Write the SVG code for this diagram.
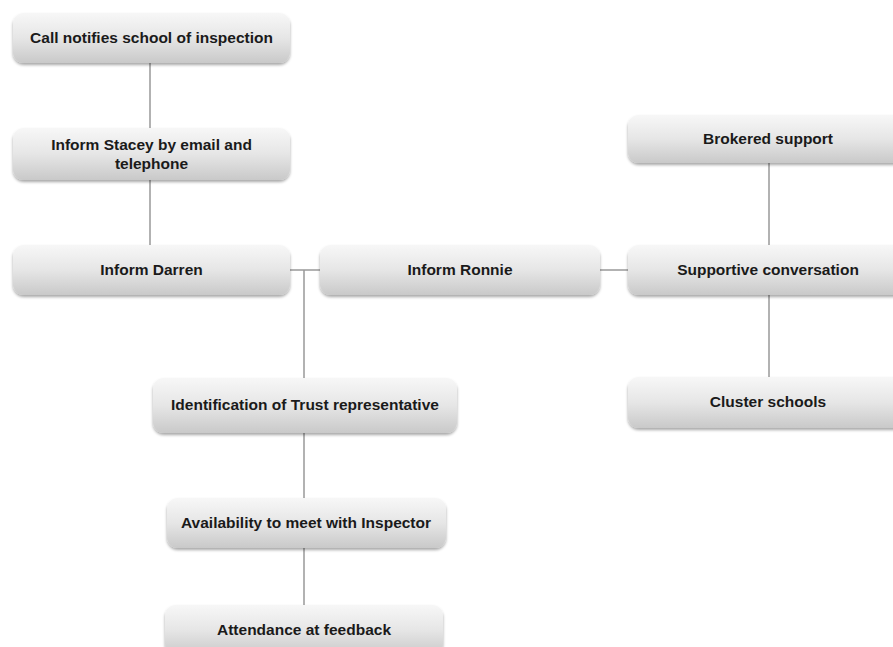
<svg xmlns="http://www.w3.org/2000/svg" width="893" height="647" viewBox="0 0 893 647">
<defs>
<linearGradient id="g" x1="0" y1="0" x2="0" y2="1">
<stop offset="0" stop-color="#f7f7f7"/>
<stop offset="0.5" stop-color="#e6e6e6"/>
<stop offset="1" stop-color="#c9c9c9"/>
</linearGradient>
<filter id="sh" x="-10%" y="-20%" width="120%" height="150%">
<feGaussianBlur in="SourceAlpha" stdDeviation="1.5"/>
<feOffset dx="0" dy="2" result="b"/>
<feComponentTransfer><feFuncA type="linear" slope="0.35"/></feComponentTransfer>
<feMerge><feMergeNode/><feMergeNode in="SourceGraphic"/></feMerge>
</filter>
</defs>
<style>
.box{fill:url(#g);filter:url(#sh);}
.t{font-family:"Liberation Sans",Arial,sans-serif;font-weight:bold;font-size:15.5px;fill:#1a1a1a;text-anchor:middle;}
.c{stroke:#999;stroke-width:1.5;fill:none;}
</style>
<rect width="893" height="647" fill="#fff"/>
<g id="connectors">
<line class="c" x1="150" y1="63" x2="150" y2="128"/>
<line class="c" x1="150" y1="180" x2="150" y2="245"/>
<line class="c" x1="290" y1="270" x2="320" y2="270"/>
<line class="c" x1="304" y1="270" x2="304" y2="378"/>
<line class="c" x1="600" y1="270" x2="628" y2="270"/>
<line class="c" x1="769" y1="163" x2="769" y2="245"/>
<line class="c" x1="769" y1="295" x2="769" y2="377"/>
<line class="c" x1="304" y1="433" x2="304" y2="498"/>
<line class="c" x1="304" y1="548" x2="304" y2="605"/>
</g>
<g id="n1"><rect class="box" x="13" y="13" width="277" height="50" rx="11"/><text class="t" x="151.5" y="43">Call notifies school of inspection</text></g>
<g id="n2"><rect class="box" x="13" y="128" width="277" height="52" rx="11"/><text class="t" x="151.5" y="150">Inform Stacey by email and</text><text class="t" x="151.5" y="169">telephone</text></g>
<g id="n3"><rect class="box" x="13" y="245" width="277" height="50" rx="11"/><text class="t" x="151.5" y="275">Inform Darren</text></g>
<g id="n4"><rect class="box" x="320" y="245" width="280" height="50" rx="11"/><text class="t" x="460" y="275">Inform Ronnie</text></g>
<g id="n5"><rect class="box" x="628" y="245" width="280" height="50" rx="11"/><text class="t" x="768" y="275">Supportive conversation</text></g>
<g id="n6"><rect class="box" x="628" y="115" width="280" height="48" rx="11"/><text class="t" x="768" y="144">Brokered support</text></g>
<g id="n7"><rect class="box" x="628" y="377" width="280" height="51" rx="11"/><text class="t" x="768" y="407">Cluster schools</text></g>
<g id="n8"><rect class="box" x="153" y="378" width="304" height="55" rx="11"/><text class="t" x="305" y="410">Identification of Trust representative</text></g>
<g id="n9"><rect class="box" x="167" y="498" width="279" height="50" rx="11"/><text class="t" x="306" y="528">Availability to meet with Inspector</text></g>
<g id="n10"><rect class="box" x="165" y="605" width="278" height="50" rx="11"/><text class="t" x="304" y="635">Attendance at feedback</text></g>
</svg>
